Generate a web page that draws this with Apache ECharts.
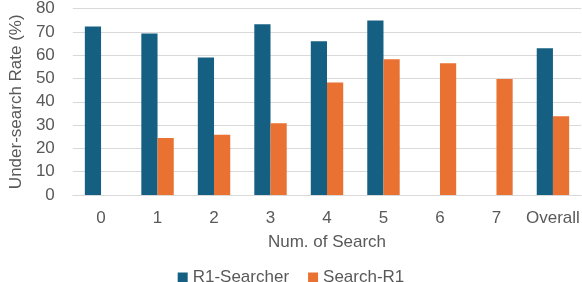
<!DOCTYPE html>
<html>
<head>
<meta charset="utf-8">
<script src="https://cdn.jsdelivr.net/npm/echarts@6/dist/echarts.min.js"></script>
<style>html,body{margin:0;padding:0;background:#fff;}#c{width:582px;height:282px;}</style>
</head>
<body>
<div id="c"></div>
<script>
var categories = ['0', '1', '2', '3', '4', '5', '6', '7', 'Overall'];
var r1Searcher = [72.3, 69.3, 59.0, 73.2, 65.9, 74.9, null, null, 62.9];
var searchR1 = [null, 24.4, 25.8, 30.8, 48.3, 58.2, 56.5, 49.8, 33.8];
var yMin = 0, yMax = 80, yStep = 10;
var seriesNames = ['R1-Searcher', 'Search-R1'];

var font = '"Liberation Sans", Arial, sans-serif';
var txt = '#595959';
var chart = echarts.init(document.getElementById('c'), null, {renderer: 'canvas'});
chart.setOption({
  animation: false,
  textStyle: {fontFamily: font},
  grid: {left: 58, right: 0, top: 8, bottom: 87, containLabel: false},
  legend: {
    data: seriesNames,
    left: 'center',
    top: 264,
    itemWidth: 10, itemHeight: 10, itemGap: 19,
    icon: 'rect',
    textStyle: {fontFamily: font, fontSize: 17, color: txt, padding: [0, 0, 0, 0]}
  },
  xAxis: {
    type: 'category',
    data: categories,
    name: 'Num. of Search',
    nameLocation: 'middle',
    nameGap: 39,
    nameTextStyle: {fontFamily: font, fontSize: 17, color: txt},
    axisLine: {show: true, lineStyle: {color: '#d9d9d9'}},
    axisTick: {show: false},
    axisLabel: {fontFamily: font, fontSize: 17, color: txt, margin: 15, interval: 0}
  },
  yAxis: {
    type: 'value',
    min: yMin, max: yMax, interval: yStep,
    name: 'Under-search Rate (%)',
    nameLocation: 'middle',
    nameGap: 42,
    nameTextStyle: {fontFamily: font, fontSize: 17, color: txt},
    axisLine: {show: false},
    axisTick: {show: false},
    axisLabel: {fontFamily: font, fontSize: 17, color: txt, margin: 18},
    splitLine: {lineStyle: {color: '#d9d9d9', width: 1}}
  },
  series: [
    {name: seriesNames[0], type: 'bar', data: r1Searcher, barWidth: '28.7%', barGap: '0%', itemStyle: {color: '#156082'}},
    {name: seriesNames[1], type: 'bar', data: searchR1, barWidth: '28.7%', barGap: '0%', itemStyle: {color: '#E97132'}}
  ]
});
</script>
</body>
</html>
